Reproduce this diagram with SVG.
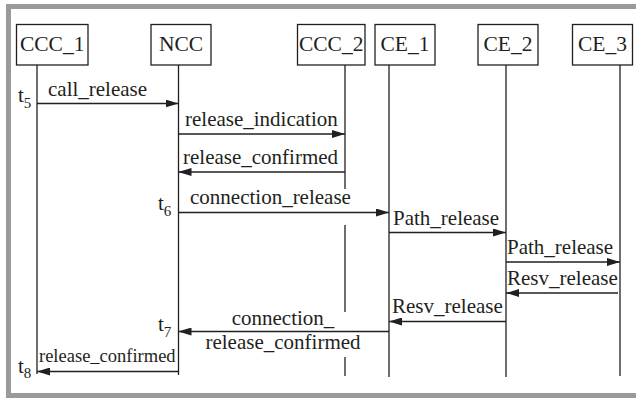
<svg xmlns="http://www.w3.org/2000/svg" width="636" height="398" viewBox="0 0 636 398" font-family="'Liberation Serif', 'Times New Roman', 'DejaVu Serif', serif">
<style>
.box{fill:#fff;stroke:#231f20;stroke-width:1.3}
.life{stroke:#231f20;stroke-width:1.3;fill:none}
.msg{stroke:#231f20;stroke-width:1.3;fill:none;marker-end:url(#arr)}
text{font-family:'Liberation Serif','Times New Roman','DejaVu Serif',serif;fill:#231f20;font-size:21px}
.name{text-anchor:middle;font-size:21.5px}
.small{font-size:18.5px}
.mid{text-anchor:middle}
.sub{font-size:15px}
</style>
<defs>
<marker id="arr" markerUnits="userSpaceOnUse" markerWidth="13" markerHeight="8" refX="13" refY="4" orient="auto">
<path d="M0,0 L13,4 L0,8 z" fill="#231f20"/>
</marker>
</defs>
<rect x="0" y="0" width="636" height="398" fill="#fff"/>
<rect x="8.5" y="6.5" width="640" height="389" fill="none" stroke="#9a9a9a" stroke-width="5"/>

<g id="CCC_1">
<rect class="box" x="16.5" y="24.5" width="71.5" height="40.5"/>
<text class="name" x="52.2" y="51" font-family="Liberation Serif, serif">CCC_1</text>
<line class="life" x1="37" y1="65" x2="37" y2="374"/>
</g>
<g id="NCC">
<rect class="box" x="151" y="24.5" width="60" height="40.5"/>
<text class="name" x="181" y="51">NCC</text>
<line class="life" x1="178.5" y1="65" x2="178.5" y2="375"/>
</g>
<g id="CCC_2">
<rect class="box" x="297.5" y="24.5" width="67.5" height="40.5"/>
<text class="name" x="331.2" y="51">CCC_2</text>
<path class="life" d="M345,65 V189 M345,225 V312 M345,357 V376"/>
</g>
<g id="CE_1">
<rect class="box" x="375" y="24.5" width="60" height="40.5"/>
<text class="name" x="405" y="51">CE_1</text>
<line class="life" x1="389" y1="65" x2="389" y2="377"/>
</g>
<g id="CE_2">
<rect class="box" x="478" y="24.5" width="60" height="40.5"/>
<text class="name" x="508" y="51">CE_2</text>
<line class="life" x1="506" y1="65" x2="506" y2="377"/>
</g>
<g id="CE_3">
<rect class="box" x="572.5" y="24.5" width="60" height="40.5"/>
<text class="name" x="602.5" y="51">CE_3</text>
<line class="life" x1="620" y1="65" x2="620" y2="376"/>
</g>

<g id="connectors">
<line class="msg" x1="37" y1="103.5" x2="178.5" y2="103.5"/>
<text x="48" y="95.5">call_release</text>
<line class="msg" x1="178.5" y1="134" x2="345" y2="134"/>
<text x="185" y="126">release_indication</text>
<line class="msg" x1="345" y1="172" x2="178.5" y2="172"/>
<text x="183" y="164">release_confirmed</text>
<line class="msg" x1="178.5" y1="212.5" x2="389" y2="212.5"/>
<text x="190" y="204">connection_release</text>
<line class="msg" x1="389" y1="232.5" x2="506" y2="232.5"/>
<text x="393" y="224.5">Path_release</text>
<line class="msg" x1="506" y1="262" x2="620" y2="262"/>
<text x="507" y="254">Path_release</text>
<line class="msg" x1="618" y1="293" x2="506" y2="293"/>
<text x="507" y="285">Resv_release</text>
<line class="msg" x1="506" y1="321.5" x2="389" y2="321.5"/>
<text x="392" y="313">Resv_release</text>
<line class="msg" x1="389" y1="331.5" x2="178.5" y2="331.5"/>
<text class="mid" x="283" y="325">connection_</text>
<text class="mid" x="283" y="348.5">release_confirmed</text>
<line class="msg" x1="178.5" y1="371.5" x2="37" y2="371.5"/>
<text class="small" x="39" y="362">release_confirmed</text>
</g>

<g id="times">
<text x="18" y="102">t<tspan class="sub" dy="6">5</tspan></text>
<text x="158" y="210">t<tspan class="sub" dy="6">6</tspan></text>
<text x="158" y="331">t<tspan class="sub" dy="6">7</tspan></text>
<text x="18" y="373">t<tspan class="sub" dy="5">8</tspan></text>
</g>
</svg>
